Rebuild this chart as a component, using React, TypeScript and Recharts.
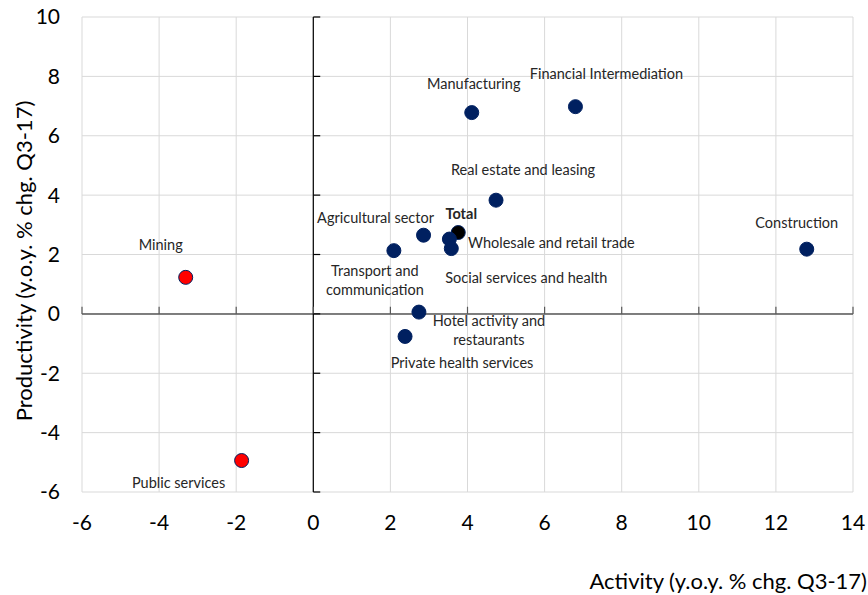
import React from "react";
import {
  CartesianGrid,
  Cell,
  ReferenceLine,
  Scatter,
  ScatterChart,
  XAxis,
  YAxis,
} from "recharts";

const sectors = [
  "Total",
  "Mining",
  "Public services",
  "Manufacturing",
  "Financial Intermediation",
  "Real estate and leasing",
  "Agricultural sector",
  "Transport and communication",
  "Wholesale and retail trade",
  "Social services and health",
  "Construction",
  "Hotel activity and restaurants",
  "Private health services",
];
const activity = [3.76, -3.31, -1.86, 4.11, 6.8, 4.74, 2.86, 2.09, 3.53, 3.58, 12.8, 2.74, 2.38];
const productivity = [2.74, 1.23, -4.94, 6.78, 6.98, 3.83, 2.65, 2.13, 2.52, 2.2, 2.18, 0.06, -0.76];

const xTicks = [-6, -4, -2, 0, 2, 4, 6, 8, 10, 12, 14];
const yTicks = [-6, -4, -2, 0, 2, 4, 6, 8, 10];

// label placement around each dot, in px (text centre)
const labelPlacement: Record<string, { dx: number; dy: number; lines?: string[] }> = {
  Total: { dx: 3, dy: -19 },
  Mining: { dx: -25, dy: -33 },
  "Public services": { dx: -63, dy: 22 },
  Manufacturing: { dx: 2, dy: -29 },
  "Financial Intermediation": { dx: 31, dy: -33 },
  "Real estate and leasing": { dx: 27, dy: -31 },
  "Agricultural sector": { dx: -48, dy: -18 },
  "Transport and communication": { dx: -19, dy: 20, lines: ["Transport and", "communication"] },
  "Wholesale and retail trade": { dx: 102, dy: 3 },
  "Social services and health": { dx: 75, dy: 29 },
  Construction: { dx: -10, dy: -27 },
  "Hotel activity and restaurants": { dx: 70, dy: 8, lines: ["Hotel activity and", "restaurants"] },
  "Private health services": { dx: 57, dy: 26 },
};

const data = sectors.map((name, i) => ({ name, x: activity[i], y: productivity[i] }));

const NAVY = "#002060";
const FONT = "Lato, 'Open Sans', sans-serif";

function dotColor(name: string, x: number) {
  if (name === "Total") return "#000000";
  if (x < 0) return "#ff0000";
  return NAVY;
}

function PointShape(props: any) {
  const { cx, cy, payload } = props;
  const place = labelPlacement[payload.name] || { dx: 0, dy: -20 };
  const lines = place.lines || [payload.name];
  const bold = payload.name === "Total";
  return (
    <g>
      <circle cx={cx} cy={cy} r={7} fill={dotColor(payload.name, payload.x)} stroke={NAVY} strokeWidth={1} />
      {lines.map((line, k) => (
        <text
          key={k}
          x={cx + place.dx}
          y={cy + place.dy + k * 19}
          textAnchor="middle"
          dominantBaseline="central"
          fontFamily={FONT}
          fontSize={14.5}
          fontWeight={bold ? 700 : 400}
          fill="#262626"
        >
          {line}
        </text>
      ))}
    </g>
  );
}

export default function App() {
  return (
    <div style={{ position: "absolute", left: 0, top: 0, background: "#fff" }}>
      <ScatterChart width={868} height={595} margin={{ top: 17, right: 15, bottom: 0, left: 12 }}>
        <CartesianGrid stroke="#d9d9d9" strokeWidth={1} />
        <XAxis
          type="number"
          dataKey="x"
          domain={[-6, 14]}
          ticks={xTicks}
          height={103}
          axisLine={false}
          tickLine={false}
          tickSize={0}
          tickMargin={23}
          tick={{ fontFamily: FONT, fontSize: 21, fill: "#000" }}
          label={{
            content: ({ viewBox }: any) => (
              <text
                x={viewBox.x + viewBox.width + 14}
                y={viewBox.y + 88}
                textAnchor="end"
                dominantBaseline="central"
                fontFamily={FONT}
                fontSize={22}
                fill="#000"
              >
                Activity (y.o.y. % chg. Q3-17)
              </text>
            ),
          }}
        />
        <YAxis
          type="number"
          dataKey="y"
          domain={[-6, 10]}
          ticks={yTicks}
          width={70}
          axisLine={false}
          tickLine={false}
          tickSize={0}
          tickMargin={22}
          tick={{ fontFamily: FONT, fontSize: 21, fill: "#000" }}
          label={{
            content: ({ viewBox }: any) => (
              <text
                x={viewBox.x + 11}
                y={261}
                textAnchor="middle"
                dominantBaseline="central"
                fontFamily={FONT}
                fontSize={22}
                fill="#000"
                transform={`rotate(-90, ${viewBox.x + 11}, 261)`}
              >
                Productivity (y.o.y. % chg. Q3-17)
              </text>
            ),
          }}
        />
        <ReferenceLine y={0} stroke="#595959" strokeWidth={1.5} />
        <ReferenceLine x={0} stroke="#000" strokeWidth={1.2} />
        {xTicks.map((t) => (
          <ReferenceLine
            key={"xt" + t}
            segment={[
              { x: t, y: 0 },
              { x: t, y: 0.24 },
            ]}
            stroke="#595959"
            strokeWidth={1.2}
          />
        ))}
        {yTicks.map((t) => (
          <ReferenceLine
            key={"yt" + t}
            segment={[
              { x: 0, y: t },
              { x: 0.18, y: t },
            ]}
            stroke="#000"
            strokeWidth={1.2}
          />
        ))}
        <Scatter data={data} isAnimationActive={false} shape={PointShape}>
          {data.map((d) => (
            <Cell key={d.name} fill={dotColor(d.name, d.x)} />
          ))}
        </Scatter>
      </ScatterChart>
    </div>
  );
}
